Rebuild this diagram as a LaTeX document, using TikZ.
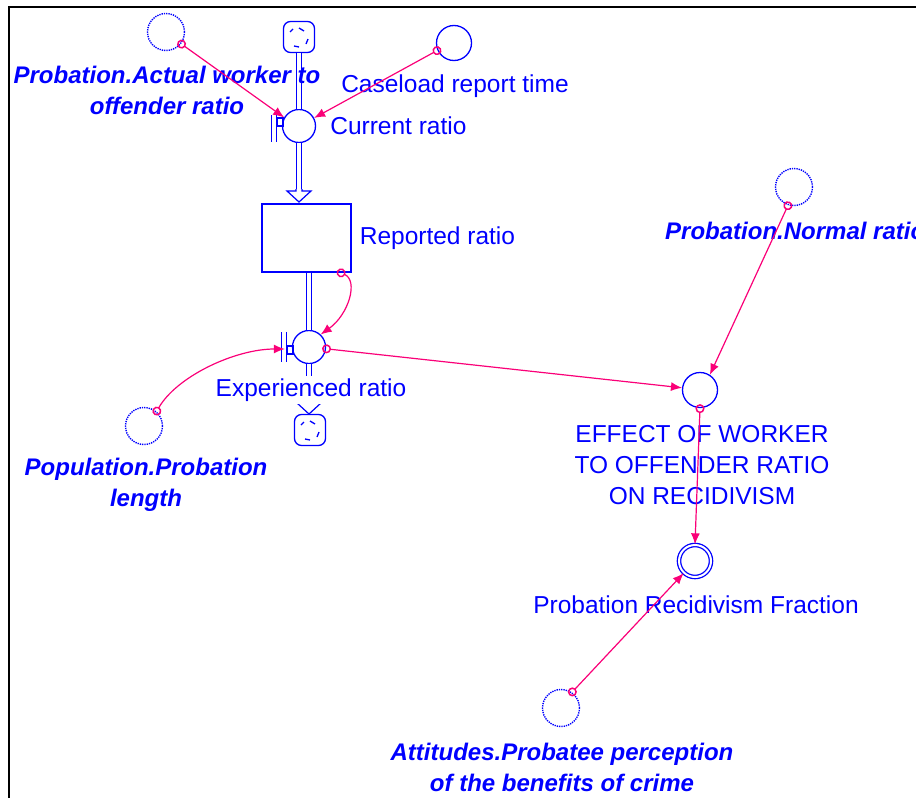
\documentclass[tikz,border=0pt]{standalone}
\usepackage{fontspec}
\setmainfont{Liberation Sans}
\usetikzlibrary{arrows.meta,positioning}
\definecolor{vblue}{RGB}{0,0,255}
\definecolor{vpink}{RGB}{250,0,120}
\tikzset{
    aux/.style={circle,draw=vblue,fill=white,line width=1.3pt,minimum size=35pt,inner sep=0pt},
    ghost/.style={aux,densely dotted,line width=1.4pt,minimum size=37pt},
    valve/.style={aux,minimum size=33pt},
    dblaux/.style={aux,minimum size=32pt,double=white,double distance=2pt},
    stock/.style={rectangle,draw=vblue,fill=white,line width=1.3pt,minimum width=89pt,minimum height=68pt},
    cloudbox/.style={rectangle,rounded corners=7pt,draw=vblue,fill=white,line width=1.3pt,
        minimum width=31pt,minimum height=31pt,inner sep=0pt,
        path picture={\draw[vblue,line width=1.3pt]
            (path picture bounding box.center) ++(-9,-5) -- ++(3,-3)
            ++(6,-1) -- ++(5,3) ++(4,8) -- ++(-2,5) ++(-7,3) -- ++(-5,-1);}},
    pipe/.style={draw=vblue,double=white,double distance=4pt,line width=1.2pt},
    link/.style={vpink,line width=1.2pt,shorten <=-4pt,
        {Circle[open,length=9pt,width=9pt,line width=1.5pt]}-{Latex[length=11pt,width=9pt]}},
    txt/.style={text=vblue,font=\fontsize{24.5}{31}\selectfont,align=center,inner sep=0pt},
    gtxt/.style={txt,font=\fontsize{24}{31}\selectfont\bfseries\itshape},
    pics/flowtip/.style={code={\draw[vblue,fill=white,line width=1.2pt]
        (-3,-2) -- (-3,0) -- (-12,0) -- (0,11) -- (12,0) -- (3,0) -- (3,-2);}}
}
\begin{document}
\begin{tikzpicture}[x=1pt,y=-1pt]
    \useasboundingbox (0,0) rectangle (916,798);
    \draw[line width=2.5pt] (9,798) -- (9,7) -- (916,7);

    \node[cloudbox] (src) at (299,37) {};
    \node[valve] (cur) at (299,126) {};
    \node[stock] (rep) at (306.5,238) {};
    \node[valve] (exp) at (309,347) {};
    \node[cloudbox] (sink) at (310,430) {};

    \node[ghost] (act) at (166,32) {};
    \node[aux] (cas) at (454,43) {};
    \node[ghost] (pop) at (144,426) {};
    \node[ghost] (norm) at (794,187) {};
    \node[aux] (eff) at (700,390) {};
    \node[dblaux] (frac) at (695,561) {};
    \node[ghost] (att) at (561,708) {};

    \coordinate (in1) at (299,191);
    \coordinate (in2) at (309,403);
    \draw[pipe] (src) -- (cur);
    \draw[pipe] (cur) -- (in1);
    \pic at (in1) {flowtip};
    \draw[pipe] (exp |- rep.south) -- (exp);
    \draw[pipe] (exp) -- (in2);
    \pic at (in2) {flowtip};

    \draw[pipe] (cur.center) ++(-25,-11) -- ++(0,27);
    \draw[vblue,line width=1.2pt] (cur.center) ++(-22,-8) rectangle ++(6,8);
    \draw[pipe] (exp.center) ++(-25,-15) -- ++(0,30);
    \draw[vblue,line width=1.2pt] (exp.center) ++(-22,-1) rectangle ++(6,8);

    \node[gtxt] (actlbl) at (167,90) {Probation.Actual worker to\\offender ratio};
    \node[txt] (caslbl) at (455,86) {Caseload report time};
    \node[txt,right=14pt of cur] (curlbl) {Current ratio};
    \node[txt,right=8pt of rep] (replbl) {Reported ratio};
    \node[txt,fill=white,inner ysep=3pt] (explbl) at (311,390) {Experienced ratio};
    \node[gtxt] (poplbl) at (146,485) {Population.Probation\\length};
    \node[gtxt,anchor=west] (normlbl) at (665,231) {Probation.Normal ratio};
    \node[txt] (efflbl) at (702,465) {EFFECT OF WORKER\\TO OFFENDER RATIO\\ON RECIDIVISM};
    \node[txt] (fraclbl) at (696,605) {Probation Recidivism Fraction};
    \node[gtxt] (attlbl) at (562,767) {Attitudes.Probatee perception\\of the benefits of crime};

    \draw[link] (act.-38) -- (cur.150);
    \draw[link] (cas.204) -- (cur.28);
    \draw[link] (pop.49) .. controls +(20,-35) and +(-50,0) .. ([xshift=-7pt,yshift=-2pt]exp.west);
    \draw[link] ([xshift=-11pt]rep.south east) .. controls +(18,8) and +(28,-20) .. (exp.47);
    \draw[link] (exp.-6) -- (eff.173);
    \draw[link] (norm.252) -- (eff.57);
    \draw[link] (eff.south) -- (frac.north);
    \draw[link] (att.55) -- (frac.227);
\end{tikzpicture}
\end{document}
